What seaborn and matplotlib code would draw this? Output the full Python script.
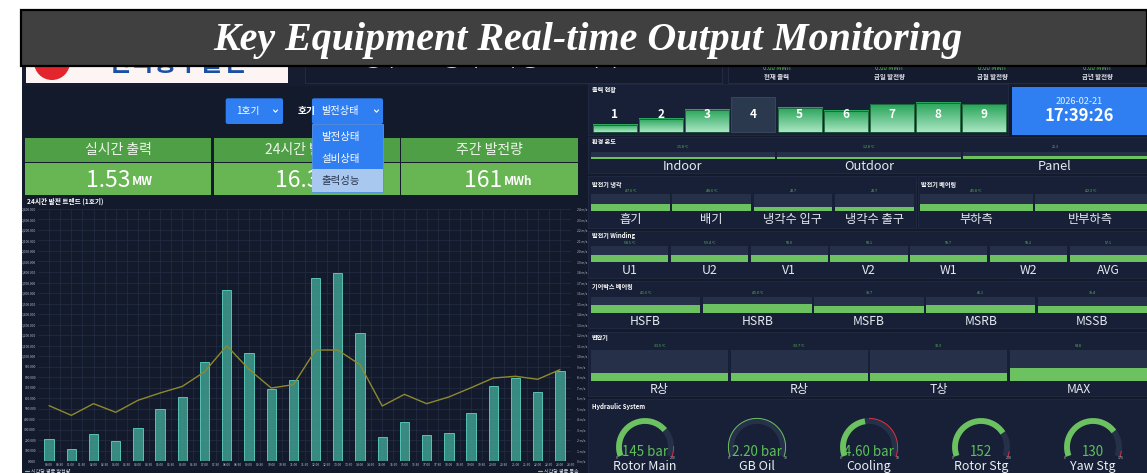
import numpy as np
import matplotlib
matplotlib.use("Agg")
import matplotlib.pyplot as plt
import matplotlib.colors as mcolors
from matplotlib.patches import Rectangle, FancyBboxPatch
import seaborn as sns

W, H = 1147, 473

# ---------------- data ----------------
hours = [f"{h:02d}:00" for h in range(24)]
hourly_gen = [210, 114, 260, 190, 317, 492, 607, 943, 1629, 1031, 686, 769,
              1743, 1788, 1216, 231, 374, 250, 267, 454, 717, 793, 657, 857]
hourly_wind = [5.27, 4.35, 5.46, 4.64, 5.78, 6.48, 7.11, 8.50, 10.98, 8.73, 6.95, 7.27,
               10.57, 10.57, 9.17, 5.24, 6.35, 5.46, 6.10, 6.98, 7.90, 8.07, 7.78, 8.70]

kpi_names = ["실시간 출력", "24시간 발전량", "주간 발전량"]
kpi_values = ["1.53", "16.3", "161"]
kpi_units = ["MW", "MWh", "MWh"]
top_names = ["현재 출력", "금일 발전량", "금월 발전량", "금년 발전량"]
menu_items = ["발전상태", "설비상태", "출력성능"]

unit_ids = ["1", "2", "3", "4", "5", "6", "7", "8", "9"]
unit_output = [21, 38, 64, None, 69, 62, 80, 85, 80]   # % of rated, None = offline
clock_date = "2026-02-21"
clock_time = "17:39:26"

env_names = ["Indoor", "Outdoor", "Panel"]
env_temp = [15.8, 12.8, 25.3]
env_unit = ["°C", "°C", ""]
cool_names = ["흡기", "배기", "냉각수 입구", "냉각수 출구"]
cool_temp = [47.6, 48.6, 23.7, 23.7]
cool_unit = ["°C", "°C", "", ""]
brg_names = ["부하측", "반부하측"]
brg_temp = [45.8, 42.3]
brg_unit = ["°C", "°C"]
wdg_names = ["U1", "U2", "V1", "V2", "W1", "W2", "AVG"]
wdg_temp = [58.5, 59.4, 58.0, 58.1, 58.7, 58.2, 57.1]
wdg_unit = ["°C", "°C", "", "", "", "", ""]
gbx_names = ["HSFB", "HSRB", "MSFB", "MSRB", "MSSB"]
gbx_temp = [41.6, 45.0, 38.7, 41.1, 38.4]
gbx_unit = ["°C", "°C", "", "", ""]
trf_names = ["R상", "R상", "T상", "MAX"]
trf_temp = [33.5, 33.7, 32.3, 54.8]
trf_unit = ["°C", "°C", "", ""]

gauge_names = ["Rotor Main", "GB Oil", "Cooling", "Rotor Stg", "Yaw Stg"]
gauge_values = [145, 2.20, 4.60, 152, 130]
gauge_text = ["145 bar", "2.20 bar", "4.60 bar", "152", "130"]
gauge_max = [200, 10, 10, 200, 175]
gauge_alarm = [180, None, 5, 190, 165]

# ---------------- colours ----------------
BG = "#121a2c"
PANEL = "#172036"
EDGE = "#222b42"
TRACK = "#263149"
GREEN = "#6cc160"
TXT_GREEN = "#5fbf5a"
BLUE = "#2f7ff2"

sns.set_theme(style="dark")
plt.rcParams["font.family"] = ["Noto Sans CJK KR", "DejaVu Sans"]

fig = plt.figure(figsize=(W / 100, H / 100), dpi=100, facecolor="white")
ax0 = fig.add_axes([0, 0, 1, 1])
ax0.set_xlim(0, W)
ax0.set_ylim(H, 0)
ax0.axis("off")
ax0.set_zorder(0)


def box(x, y, w, h, fc, ec="none", lw=0, z=1, r=0):
    if r > 0:
        p = FancyBboxPatch((x, y), w, h, boxstyle=f"round,pad=0,rounding_size={r}",
                           fc=fc, ec=ec, lw=lw, zorder=z)
    else:
        p = Rectangle((x, y), w, h, fc=fc, ec=ec, lw=lw, zorder=z)
    ax0.add_patch(p)


def txt(x, y, s, size, color="white", ha="center", va="center", weight="normal", z=5, **kw):
    ax0.text(x, y, s, fontsize=size, color=color, ha=ha, va=va, fontweight=weight, zorder=z, **kw)


def grad_box(x, y, w, h, c_top, c_bot, z=3):
    c1 = np.array(mcolors.to_rgb(c_top))
    c2 = np.array(mcolors.to_rgb(c_bot))
    t = np.linspace(0, 1, 60)[:, None, None]
    img = c1 * (1 - t) + c2 * t
    ax0.imshow(img, extent=(x, x + w, y + h, y), aspect="auto", zorder=z, interpolation="bilinear")


def chevron(x, y, c="white"):
    ax0.plot([x - 2, x, x + 2], [y - 1, y + 1.2, y - 1], color=c, lw=0.8, zorder=6)


def track_row(x0, x1, yt, yb, names, vals, units, vmax, val_y, lab_y, fs, gap=2.5):
    n = len(names)
    w = (x1 - x0 - gap * (n - 1)) / n
    for i in range(n):
        xi = x0 + i * (w + gap)
        box(xi, yt, w, yb - yt, TRACK, z=2)
        fh = max((yb - yt) * min(vals[i] / vmax, 1), 1.3)
        box(xi, yb - fh, w, fh, GREEN, z=3)
        lab = f"{vals[i]}" + (f" {units[i]}" if units[i] else "")
        txt(xi + w / 2, val_y, lab, 2.6, color=TXT_GREEN)
        txt(xi + w / 2, lab_y, names[i], fs, color="#e6e9f0")


# ---------------- background & frame ----------------
box(22, 50, W - 22, H - 50, BG, z=0)
box(22, 60, W - 22, 26, "#161d31", z=0.5)
# logo
box(26, 55, 262, 28, "#fdf4f4", z=1)
ax0.add_patch(matplotlib.patches.Circle((52, 62), 18, fc="#e3262e", ec="none", zorder=1.5))
txt(178, 64, "한국중부발전", 18, color="#1a4fa3", weight="bold", z=1.6)
box(305, 55, 417, 28, "#141b2e", ec=EDGE, lw=0.8, z=1)
txt(510, 61, "중부발전 풍력단지 통합 관제시스템", 14.5, color="#e9ecf3", z=1.6)
box(728, 55, 419, 28, "#141b2e", ec=EDGE, lw=0.8, z=1)
for x, nm in zip([777, 889, 992, 1097], top_names):
    txt(x, 76, nm, 4.6, color="#dfe3ea", weight="bold")
    txt(x, 67.5, "0.00 MWh", 4.5, color=TXT_GREEN)

# title bar (drawn on top)
box(21, 10, W - 21, 56, "#404040", ec="black", lw=1.6, z=20)
txt(588, 50, "Key Equipment Real-time Output Monitoring", 28.8, color="white", va="baseline",
    weight="bold", z=21, family="Liberation Serif", style="italic")

# ---------------- left panel: controls ----------------
box(225.7, 98.3, 57.3, 25.7, BLUE, z=3, r=2)
txt(236.5, 111.2, "1호기", 7, ha="left")
chevron(275.5, 111)
txt(297.5, 111.2, "호기", 7, ha="left", weight="bold")
box(311.9, 98.3, 71.1, 25.7, BLUE, z=3, r=2)
txt(321.5, 111.2, menu_items[0], 7.3, ha="left")
chevron(376.5, 111)

# KPI cards
cols = [(25, 186), (213.5, 186), (401.4, 176.6)]
for (x, w), nm, v, u in zip(cols, kpi_names, kpi_values, kpi_units):
    box(x, 137.7, w, 24, "#4f9f46", z=2)
    box(x, 163.3, w, 31.7, "#68b553", z=2)
    txt(x + w / 2, 149.7, nm, 10, color="#eef6ea")
    ax0.text(x + w / 2 + 13, 180, v, fontsize=16.5, color="white", ha="right", va="center", zorder=5)
    ax0.text(x + w / 2 + 14, 181.5, u, fontsize=8.5, color="white", ha="left", va="center",
             fontweight="bold", zorder=5)

# dropdown menu
box(311.9, 124, 71.1, 67.7, BLUE, ec="#5a95e8", lw=0.6, z=8)
box(311.9, 169.3, 71.1, 22.4, "#a9c8ef", z=9)
for y, item, c in zip([136.7, 159.3, 181], menu_items, ["white", "white", "#26324b"]):
    txt(321.5, y, item, 7.5, color=c, ha="left", z=10)

# chart title / legend
txt(27, 201, "24시간 발전 트렌드 (1호기)", 4.8, ha="left", weight="bold")
ax0.plot([25, 29], [471, 471], color="#4fd1bf", lw=0.9, zorder=5)
txt(31, 471, "시간당 평균 발전량", 3.6, ha="left", color="#cfd5e0")
ax0.plot([538, 542], [471, 471], color="#b8b030", lw=0.9, zorder=5)
txt(544, 471, "시간당 평균 풍속", 3.6, ha="left", color="#cfd5e0")

# ---------------- chart (seaborn) ----------------
ax = fig.add_axes([38 / W, 1 - 461 / H, 533 / W, 252 / H])
ax.set_zorder(2)
ax.set_facecolor(BG)
sns.barplot(x=hours, y=hourly_gen, ax=ax, color="#3f9f90", saturation=1, width=0.42,
            edgecolor="#5fd6c4", linewidth=0.7, alpha=0.85, zorder=3)
ax.set_xlim(-0.5, 23.5)
ax.set_ylim(0, 2400)
ax.set_yticks(np.arange(0, 2401, 100))
ax.set_yticklabels([f"{v:,}.000" for v in range(0, 2401, 100)])
xt = np.arange(0, 24, 0.5)
ax.set_xticks(xt)
ax.set_xticklabels([f"{int(t):02d}:{'30' if t % 1 else '00'}" for t in xt])
ax.tick_params(axis="both", length=0, labelsize=2.4, labelcolor="#b9c0cf", pad=1.5)
ax.grid(True, color="#252e45", lw=0.5)
ax.set_axisbelow(True)
ax.set_xlabel("")
ax.set_ylabel("")
for s in ax.spines.values():
    s.set_visible(False)

ax2 = ax.twinx()
ax2.set_zorder(3)
ax2.patch.set_visible(False)
sns.lineplot(x=np.arange(24), y=hourly_wind, ax=ax2, color="#8e8a2c", lw=1.0)
ax2.set_xlim(-0.5, 23.5)
ax2.set_ylim(0, 24)
ax2.set_yticks(np.arange(0, 25, 1))
ax2.set_yticklabels([f"{v} m/s" for v in range(25)])
ax2.tick_params(axis="y", length=0, labelsize=2.4, labelcolor="#b9c0cf", pad=4)
ax2.grid(False)
ax2.set_ylabel("")
for s in ax2.spines.values():
    s.set_visible(False)

# ---------------- right panel ----------------
sections = [(588, 84, 420, 51), (588, 137, 559, 36), (588, 176, 328, 52), (918, 176, 229, 52),
            (588, 231, 559, 47), (588, 281, 559, 47), (588, 332, 559, 64), (588, 399, 559, 74)]
for x, y, w, h in sections:
    box(x, y, w, h, PANEL, ec=EDGE, lw=0.6, z=1)

titles = [(592, 89.5, "출력 현황"), (592, 141, "환경 온도"), (592, 184, "발전기 냉각"),
          (921, 184, "발전기 베어링"), (592, 235.7, "발전기 Winding"), (592, 286.7, "기어박스 베어링"),
          (592, 337.7, "변압기"), (592, 406, "Hydraulic System")]
for x, y, s in titles:
    txt(x, y, s, 4.4, ha="left", weight="bold")

# unit output boxes
bx0, bw, bgap, bbot, bfull = 592.7, 44.1, 2.1, 132.3, 35
for i, (uid, out) in enumerate(zip(unit_ids, unit_output)):
    x = bx0 + i * (bw + bgap)
    if out is None:
        box(x, bbot - bfull, bw, bfull, "#2a394d", ec="#3b4a60", lw=0.6, z=3)
    else:
        h = bfull * out / 100
        grad_box(x, bbot - h, bw, h, "#27a458", "#a9e5c3", z=3)
        box(x, bbot - h, bw, h, "none", ec="#1c5d3a", lw=0.6, z=3.5)
    txt(x + bw / 2, 114.3, uid, 8.5, weight="bold", z=6)

# clock
box(1011.7, 86.7, 135.3, 48.3, BLUE, z=2)
txt(1079, 101.7, clock_date, 6.6, color="#e8f0ff")
txt(1079, 115.7, clock_time, 12, weight="bold")

track_row(591, 1147, 151.7, 158.7, env_names, env_temp, env_unit, 65, 146.7, 166.7, 9.2, gap=2)
track_row(591, 913.5, 194.3, 210.7, cool_names, cool_temp, cool_unit, 115, 190.7, 219.3, 8.8)
track_row(920, 1147, 194.3, 210.7, brg_names, brg_temp, brg_unit, 110, 190.7, 219.3, 8.8, gap=2)
track_row(591, 1147, 246, 261.7, wdg_names, wdg_temp, wdg_unit, 130, 242.5, 270, 8.8)
track_row(591, 1147, 296.7, 312.7, gbx_names, gbx_temp, gbx_unit, 86, 292.7, 321.7, 8.8)
track_row(591, 1147, 350, 380.7, trf_names, trf_temp, trf_unit, 135, 345.7, 389.3, 8.8)


# hydraulic gauges
def arc(cx, cy, r, a0, a1, **kw):
    a = np.radians(np.linspace(a0, a1, 80))
    ax0.plot(cx + r * np.cos(a), cy - r * np.sin(a), solid_capstyle="butt", **kw)


A0, SPAN = 200, 220
for cx, nm, v, vt, vmax, alarm in zip([645, 757, 869, 981, 1093], gauge_names, gauge_values,
                                      gauge_text, gauge_max, gauge_alarm):
    cy, r = 447, 26
    arc(cx, cy, r, A0, A0 - SPAN, color=TRACK, lw=4.2, zorder=3)
    if alarm is None:
        arc(cx, cy, r + 2.6, A0, A0 - SPAN, color=GREEN, lw=0.7, zorder=4)
    else:
        arc(cx, cy, r, A0, A0 - SPAN * v / vmax, color=GREEN, lw=4.2, zorder=4)
        arc(cx, cy, r + 2.6, A0 - SPAN * alarm / vmax, A0 - SPAN, color="#e0303f", lw=0.7, zorder=4)
    txt(cx, 451.7, vt, 9.6, color=TXT_GREEN, z=6)
    txt(cx, 466.7, nm, 9, color="#eceff4", z=6)
    a = np.radians(A0)
    txt(cx + (r + 4) * np.cos(a), cy - (r + 4) * np.sin(a) + 1, "0", 2.6, color="#c0c6d2")
    a = np.radians(A0 - SPAN)
    txt(cx + (r + 4) * np.cos(a), cy - (r + 4) * np.sin(a) + 1, f"{vmax}", 2.6, color="#c0c6d2")

fig.savefig("out.png", dpi=100, facecolor="white")
